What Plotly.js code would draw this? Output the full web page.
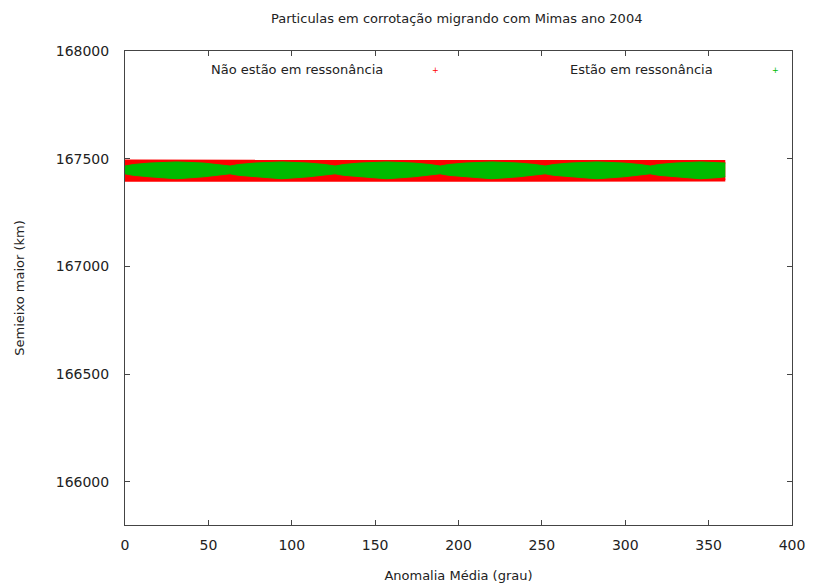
<!DOCTYPE html>
<html>
<head>
<meta charset="utf-8">
<script src="https://cdn.plot.ly/plotly-3.0.1.min.js"></script>
<style>html,body{margin:0;padding:0;background:#fff;}#chart{width:838px;height:585px;}</style>
</head>
<body>
<div id="chart"></div>
<script>
// Anomalia média (grau) sample positions along the band
const anomalia = [0,5,15,31,47,57,63,68,78,94,110,120,126,131,141,157,173,183,189,194,204,220,236,246,252,257,267,283,299,309,315,320,330,345,355,360];
// Envelope of particles not in resonance (red)
const naoTopo = [167489,167489,167488,167487,167488,167489,167490,167489,167488,167487,167488,167489,167490,167489,167488,167487,167488,167489,167490,167489,167488,167487,167488,167489,167490,167489,167488,167487,167488,167489,167490,167489,167488,167487,167488,167488];
const naoBase = [167400,167400,167401,167402,167401,167400,167399,167400,167401,167402,167401,167400,167399,167400,167401,167402,167401,167400,167399,167400,167401,167402,167401,167400,167399,167400,167401,167402,167401,167400,167399,167400,167401,167402,167401,167401];
// Envelope of particles in resonance (green)
const simTopo = [167466,167473,167480,167485,167480,167473,167466,167473,167480,167485,167480,167473,167466,167473,167480,167485,167480,167473,167466,167473,167480,167485,167480,167473,167466,167473,167480,167485,167480,167473,167466,167473,167480,167485,167482,167480];
const simBase = [167430,167423,167416,167407,167416,167423,167430,167423,167416,167407,167416,167423,167430,167423,167416,167407,167416,167423,167430,167423,167416,167407,167416,167423,167430,167423,167416,167407,167416,167423,167430,167423,167416,167407,167412,167416];
const xTicks = [0,50,100,150,200,250,300,350,400];
const yTicks = [166000,166500,167000,167500,168000];
const yTickText = ["166000","166500","167000","167500","168000"];
const labelNao = "Não estão em ressonância";
const labelSim = "Estão em ressonância";

const red = "#ff0000", green = "#00bb00";
const traces = [
  {x: anomalia, y: naoBase, type: "scatter", mode: "lines", line: {color: red, width: 3}, showlegend: false, hoverinfo: "skip"},
  {x: anomalia, y: naoTopo, type: "scatter", mode: "lines", fill: "tonexty", fillcolor: red, line: {color: red, width: 3}, showlegend: false, name: labelNao},
  {x: anomalia, y: simBase, type: "scatter", mode: "lines", line: {color: green, width: 1}, showlegend: false, hoverinfo: "skip"},
  {x: anomalia, y: simTopo, type: "scatter", mode: "lines", fill: "tonexty", fillcolor: green, line: {color: green, width: 1}, showlegend: false, name: labelSim}
];

const fam = "DejaVu Sans, Verdana, sans-serif";
const font = {family: fam, size: 13, color: "#222"};
const tickFont = {family: fam, size: 14, color: "#222"};
const layout = {
  width: 838, height: 585,
  margin: {l: 125, r: 46, t: 51, b: 60},
  paper_bgcolor: "#fff", plot_bgcolor: "#fff",
  font: font,
  showlegend: false,
  title: {text: "Particulas em corrotação migrando com Mimas ano 2004", x: 0.545, xref: "container", y: 0.968, yanchor: "middle", font: {family: fam, size: 13, color: "#222"}},
  xaxis: {range: [0, 400], tickvals: xTicks, ticks: "inside", ticklen: 5, tickcolor: "#444", showline: true, linecolor: "#444", linewidth: 1, mirror: "allticks", showgrid: false, zeroline: false, tickfont: tickFont, ticklabelstandoff: 7,
          title: {text: "Anomalia Média (grau)", standoff: 19, font: font}},
  yaxis: {range: [165800, 168000], tickvals: yTicks, ticktext: yTickText, ticks: "inside", ticklen: 5, tickcolor: "#444", showline: true, linecolor: "#444", linewidth: 1, mirror: "allticks", showgrid: false, zeroline: false, ticklabelstandoff: 12, tickfont: tickFont,
          title: {text: "Semieixo maior (km)", standoff: 28, font: font}},
  annotations: [
    {xref: "paper", yref: "paper", x: 0.39, y: 0.96, xanchor: "right", yanchor: "middle", text: labelNao, showarrow: false, font: font},
    {xref: "paper", yref: "paper", x: 0.466, y: 0.958, xanchor: "center", yanchor: "middle", text: "+", showarrow: false, font: {family: fam, size: 8, color: red}},
    {xref: "paper", yref: "paper", x: 0.885, y: 0.96, xanchor: "right", yanchor: "middle", text: labelSim, showarrow: false, font: font},
    {xref: "paper", yref: "paper", x: 0.976, y: 0.958, xanchor: "center", yanchor: "middle", text: "+", showarrow: false, font: {family: fam, size: 8, color: green}}
  ]
};
Plotly.newPlot("chart", traces, layout, {displayModeBar: false, staticPlot: true});
</script>
</body>
</html>
